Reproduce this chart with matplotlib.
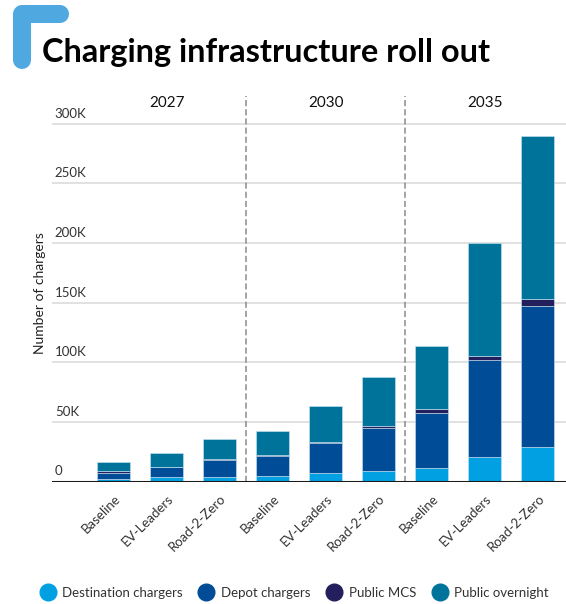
import matplotlib.pyplot as plt
import numpy as np
from matplotlib.lines import Line2D

plt.rcParams['font.family'] = ['Lato', 'DejaVu Sans']

# data (thousands of chargers)
years = ['2027', '2030', '2035']
scenarios = ['Baseline', 'EV-Leaders', 'Road-2-Zero']
destination = [2, 3.5, 4, 4.5, 7, 9, 11, 20.5, 29]
depot = [5.5, 8.5, 14, 16.5, 25.5, 35.5, 46.5, 81.5, 118.5]
mcs = [1, 0.5, 1, 1, 1, 2, 3, 3.5, 5.5]
overnight = [7.5, 11, 17, 20, 29.5, 41.5, 53.5, 94.5, 137]
series_names = ['Destination chargers', 'Depot chargers', 'Public MCS', 'Public overnight']
series_colors = ['#00a0e3', '#004c97', '#231f5c', '#00739a']
yticks = [0, 50, 100, 150, 200, 250, 300]
ytick_labels = ['0', '50K', '100K', '150K', '200K', '250K', '300K']

fig = plt.figure(figsize=(5.66, 6.04), dpi=100)
ax = fig.add_axes([52/566, 122.5/604, 1 - 52/566, 385.5/604])

x = np.arange(len(destination))
bottom = np.zeros(len(x))
for vals, name, col in zip([destination, depot, mcs, overnight], series_names, series_colors):
    ax.bar(x, vals, width=0.62, bottom=bottom, color=col, label=name,
           edgecolor='#cde6f4', linewidth=0.4, zorder=3)
    bottom += np.array(vals)

ax.set_xlim(-1.164, 8.53)
ax.set_ylim(0, 323.4)

# gridlines and in-plot tick labels
for t, lab in zip(yticks, ytick_labels):
    if t > 0:
        ax.axhline(t, color='#d9d9d9', lw=1.1, zorder=1)
    ax.annotate(lab, xy=(0, t), xycoords=('axes fraction', 'data'),
                xytext=(2, 3), textcoords='offset points',
                ha='left', va='bottom', fontsize=9.5, color='#333333')
ax.axhline(0, color='#1a1a1a', lw=2.2, zorder=4)

# group separators and year headers
for sep in [2.5, 5.5]:
    ax.axvline(sep, color='#8c8c8c', lw=1.1, ls=(0, (4, 2)), zorder=2)
for i, yr in enumerate(years):
    ax.text(i * 3 + 1, 0.982, yr, transform=ax.get_xaxis_transform(),
            ha='center', va='center', fontsize=11, color='#111111')

ax.set_xticks(x)
ax.set_xticklabels(scenarios * 3, rotation=45, ha='right', rotation_mode='anchor',
                   fontsize=9.5, color='#333333')
ax.tick_params(axis='x', length=0, pad=8)
ax.set_yticks([])
for s in ax.spines.values():
    s.set_visible(False)

fig.text(40/566, 1 - 293/604, 'Number of chargers', rotation=90,
         ha='center', va='center', fontsize=10, color='#222222')

# title with corner mark
fig.add_artist(Line2D([22/566, 22/566, 60/566], [1 - 60/604, 1 - 14/604, 1 - 14/604],
                      transform=fig.transFigure, color='#4fa9e0', lw=13,
                      solid_capstyle='round', solid_joinstyle='round'))
fig.text(42/566, 1 - 62/604, 'Charging infrastructure roll out',
         fontsize=23.4, fontweight='bold', color='#000000', va='baseline', ha='left')

handles = [Line2D([], [], marker='o', ls='none', markersize=12, color=c) for c in series_colors]
fig.legend(handles, series_names, loc='center', bbox_to_anchor=(0.52, 1 - 593/604),
           ncol=4, frameon=False, fontsize=9.5, handletextpad=0.5, columnspacing=1.2,
           handlelength=1.2, labelcolor='#333333', borderpad=0.2, borderaxespad=0)

fig.savefig('out.png', dpi=100)
